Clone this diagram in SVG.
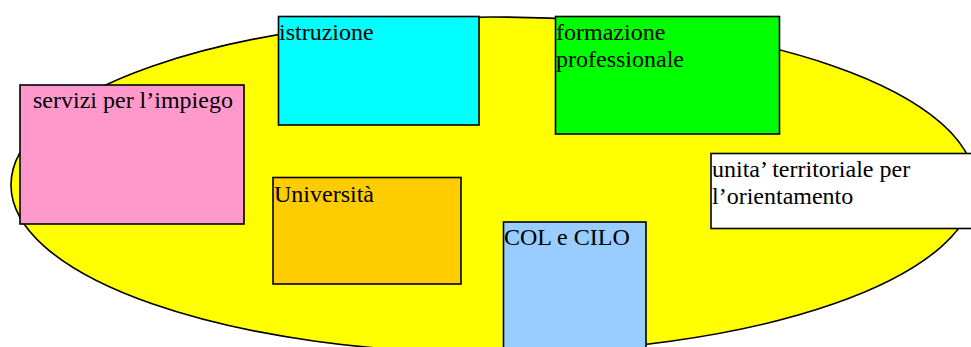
<svg xmlns="http://www.w3.org/2000/svg" width="971" height="347" viewBox="0 0 971 347">
<style>
.box{stroke:#000;stroke-width:1.6}
.t{font-family:"Liberation Serif","Times New Roman",serif;font-size:24px;fill:#000}
</style>
<rect width="971" height="347" fill="#fff"/>
<g id="area">
<ellipse cx="493" cy="185" rx="482" ry="168" fill="#ffff00" stroke="#000" stroke-width="1.6"/>
</g>
<g id="connectors"/>
<g id="servizi">
<rect class="box" x="20" y="85" width="224" height="139" fill="#ff99cc"/>
<text class="t" x="33" y="108">servizi per l’impiego</text>
</g>
<g id="istruzione">
<rect class="box" x="278.5" y="16.5" width="200.5" height="108.5" fill="#00ffff"/>
<text class="t" x="279" y="40">istruzione</text>
</g>
<g id="formazione">
<rect class="box" x="555.5" y="16.5" width="224" height="117.5" fill="#00ff00"/>
<text class="t" x="556" y="40">formazione</text>
<text class="t" x="556" y="67">professionale</text>
</g>
<g id="unita">
<rect class="box" x="711" y="153.5" width="264" height="75" fill="#ffffff"/>
<text class="t" x="712" y="177">unita’ territoriale per</text>
<text class="t" x="712" y="204">l’orientamento</text>
</g>
<g id="universita">
<rect class="box" x="273" y="177.5" width="188" height="106.5" fill="#ffcc00"/>
<text class="t" x="274" y="202">Università</text>
</g>
<g id="col">
<rect class="box" x="503.5" y="222" width="142.5" height="135" fill="#99ccff"/>
<text class="t" x="504" y="245">COL e CILO</text>
</g>
</svg>
